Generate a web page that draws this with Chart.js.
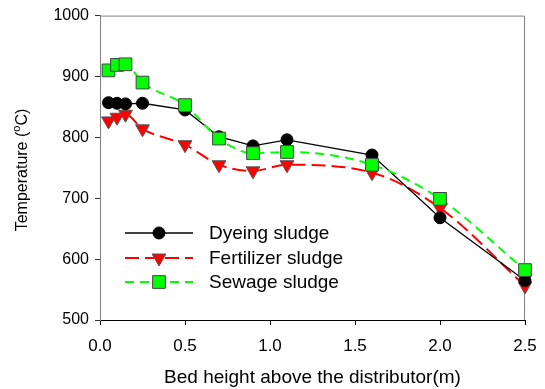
<!DOCTYPE html>
<html>
<head>
<meta charset="utf-8">
<script src="https://cdn.jsdelivr.net/npm/chart.js@4"></script>
<style>
  html, body { margin: 0; padding: 0; background: #fff; }
  #wrap { width: 545px; height: 389px; }
</style>
</head>
<body>
<div id="wrap"><canvas id="chart-temp"></canvas></div>
<script>
// bed height (m) and temperature (°C) for each sludge
const heights = [0.05, 0.10, 0.15, 0.25, 0.5, 0.7, 0.9, 1.1, 1.6, 2.0, 2.5];
const dyeing = [857, 856, 855, 856, 845, 801, 786, 796, 771, 668, 565];
const fertilizer = [827, 833, 838, 814, 788, 755, 745, 755, 742, 684, 556];
const sewage = [910, 919, 920, 890, 853, 798, 774, 776, 755, 699, 582];
const seriesNames = ['Dyeing sludge', 'Fertilizer sludge', 'Sewage sludge'];
const xTicks = [0, 0.5, 1.0, 1.5, 2.0, 2.5];
const yTicks = [500, 600, 700, 800, 900, 1000];

const FONT = "'Liberation Sans', Arial, sans-serif";
Chart.defaults.font.family = FONT;
Chart.defaults.color = '#000';

function toPoints(vals) {
    return vals.map(function (v, i) { return { x: heights[i], y: v }; });
}

// frame, y title with superscript, and the legend inside the plot
const extras = {
    id: 'extras',
    beforeDatasetsDraw(chart) {
        const ctx = chart.ctx;
        const a = chart.chartArea;
        ctx.save();
        ctx.strokeStyle = '#808080';
        ctx.lineWidth = 1;
        ctx.beginPath();
        ctx.moveTo(a.left, a.top + 0.5);
        ctx.lineTo(a.right - 0.5, a.top + 0.5);
        ctx.lineTo(a.right - 0.5, a.bottom);
        ctx.stroke();
        ctx.restore();
    },
    afterDatasetsDraw(chart) {
        const ctx = chart.ctx;
        ctx.save();

        // legend rows
        const rowY = [233, 258, 282];
        chart.data.datasets.forEach(function (ds, i) {
            const y = rowY[i];
            ctx.strokeStyle = ds.borderColor;
            ctx.lineWidth = ds.borderWidth;
            ctx.setLineDash(ds.borderDash || []);
            ctx.beginPath();
            ctx.moveTo(125, y);
            ctx.lineTo(193, y);
            ctx.stroke();
            ctx.setLineDash([]);
            ctx.fillStyle = ds.pointBackgroundColor;
            ctx.strokeStyle = ds.pointBorderColor;
            ctx.lineWidth = ds.pointBorderWidth;
            Chart.helpers.drawPoint(ctx, {
                pointStyle: ds.pointStyle,
                radius: ds.pointRadius,
                rotation: ds.pointRotation || 0,
                borderWidth: ds.pointBorderWidth
            }, 159, y);
            ctx.fillStyle = '#000';
            ctx.font = '19px ' + FONT;
            ctx.textBaseline = 'middle';
            ctx.textAlign = 'left';
            ctx.fillText(ds.label, 209, y + 1);
        });

        // rotated axis title: Temperature (°C) with raised "o"
        ctx.translate(23, 170);
        ctx.rotate(-Math.PI / 2);
        ctx.textBaseline = 'middle';
        ctx.textAlign = 'left';
        const main = '16px ' + FONT;
        const sup = '11px ' + FONT;
        ctx.font = main;
        const p1 = 'Temperature (';
        const p3 = 'C)';
        const w1 = ctx.measureText(p1).width;
        const w3 = ctx.measureText(p3).width;
        ctx.font = sup;
        const w2 = ctx.measureText('o').width;
        let x0 = -(w1 + w2 + w3) / 2;
        ctx.font = main;
        ctx.fillText(p1, x0, 0);
        ctx.font = sup;
        ctx.fillText('o', x0 + w1, -6);
        ctx.font = main;
        ctx.fillText(p3, x0 + w1 + w2, 0);
        ctx.restore();
    }
};

const ctx = document.getElementById('chart-temp').getContext('2d');
new Chart(ctx, {
    type: 'line',
    data: {
        datasets: [
            {
                label: seriesNames[0],
                data: toPoints(dyeing),
                borderColor: '#000',
                borderWidth: 1.3,
                pointStyle: 'circle',
                pointRadius: 6,
                pointBackgroundColor: '#000',
                pointBorderColor: '#000',
                pointBorderWidth: 1,
                tension: 0,
                clip: false,
                order: 1
            },
            {
                label: seriesNames[1],
                data: toPoints(fertilizer),
                borderColor: '#FF0000',
                borderWidth: 2,
                borderDash: [14, 6],
                pointStyle: 'triangle',
                pointRotation: 180,
                pointRadius: 8,
                pointBackgroundColor: '#FF0000',
                pointBorderColor: '#555',
                pointBorderWidth: 1,
                cubicInterpolationMode: 'monotone',
                clip: false,
                order: 2
            },
            {
                label: seriesNames[2],
                data: toPoints(sewage),
                borderColor: '#00FF00',
                borderWidth: 2,
                borderDash: [9, 6],
                pointStyle: 'rect',
                pointRadius: 9,
                pointBackgroundColor: '#00FF00',
                pointBorderColor: '#444',
                pointBorderWidth: 1,
                cubicInterpolationMode: 'monotone',
                clip: false,
                order: 0
            }
        ]
    },
    options: {
        responsive: true,
        maintainAspectRatio: false,
        animation: false,
        layout: { padding: { top: 14, right: 20, left: 0, bottom: 0 } },
        plugins: {
            legend: { display: false },
            tooltip: { enabled: false }
        },
        scales: {
            x: {
                type: 'linear',
                min: 0,
                max: 2.5,
                afterBuildTicks: function (s) { s.ticks = xTicks.map(function (v) { return { value: v }; }); },
                afterFit: function (s) {
                    s.height = 69;
                    s.paddingLeft = 0;
                    s.paddingRight = 0;
                },
                ticks: {
                    font: { size: 17 },
                    padding: 11,
                    maxRotation: 0,
                    callback: function (v) { return v.toFixed(1); }
                },
                grid: { drawOnChartArea: false, drawTicks: true, tickLength: 5, tickColor: '#000' },
                border: { color: '#000', width: 1 },
                title: {
                    display: true,
                    text: 'Bed height above the distributor(m)',
                    font: { size: 19 },
                    padding: { top: 0, bottom: 0 }
                }
            },
            y: {
                min: 500,
                max: 1000,
                afterBuildTicks: function (s) { s.ticks = yTicks.map(function (v) { return { value: v }; }); },
                afterFit: function (s) { s.width = 100; },
                ticks: {
                    font: { size: 16 },
                    padding: 6,
                    callback: function (v) { return String(v); }
                },
                grid: { drawOnChartArea: false, drawTicks: true, tickLength: 5, tickColor: '#333' },
                border: { color: '#808080', width: 1 }
            }
        }
    },
    plugins: [extras]
});
</script>
</body>
</html>
